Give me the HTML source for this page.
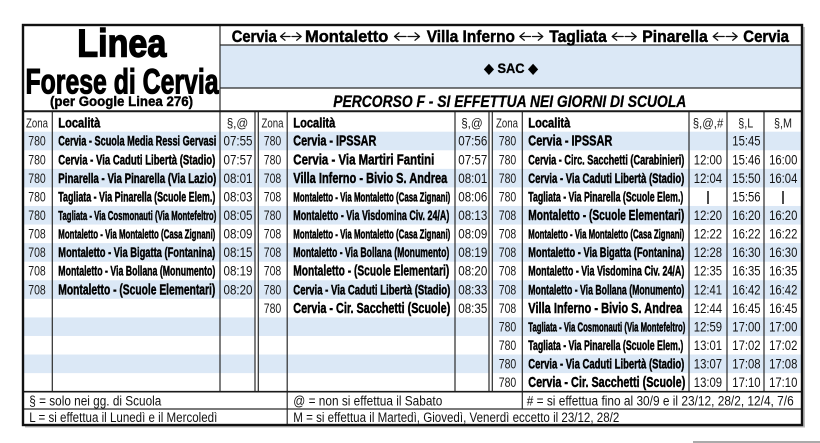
<!DOCTYPE html>
<html>
<head>
<meta charset="utf-8">
<style>
html,body{margin:0;padding:0;background:#fff;}
svg{display:block;}
.z{font-family:"Liberation Sans",sans-serif;font-size:14px;fill:#1a1a1a;}
.t{font-family:"Liberation Sans",sans-serif;font-size:14px;fill:#111;}
.l{font-family:"Liberation Sans",sans-serif;font-weight:bold;fill:#000;stroke:#000;stroke-width:0.45;}
.f{font-family:"Liberation Sans",sans-serif;font-size:13.5px;fill:#111;}
.hd{font-family:"Liberation Sans",sans-serif;font-size:13px;fill:#1a1a1a;}
.rt{font-family:"Liberation Sans",sans-serif;font-weight:bold;font-size:17px;fill:#000;stroke:#000;stroke-width:0.45;}
</style>
</head>
<body>
<svg width="820" height="443" viewBox="0 0 820 443" xmlns="http://www.w3.org/2000/svg">
<rect x="0" y="0" width="820" height="443" fill="#fff"/>

<!-- shadow -->
<rect x="803" y="27" width="2" height="400" fill="#bbb"/>
<rect x="25" y="426" width="780" height="1.5" fill="#bbb"/>
<rect x="693" y="441" width="127" height="2" fill="#aaa"/>

<!-- blue SAC band -->
<rect x="220" y="45" width="582" height="43" fill="#dbe8f6"/>

<!-- stripes -->
<g fill="#dbe8f6">
<rect x="23" y="131.7" width="779" height="18.57"/>
<rect x="23" y="168.84" width="779" height="18.57"/>
<rect x="23" y="205.98" width="779" height="18.57"/>
<rect x="23" y="243.12" width="779" height="18.57"/>
<rect x="23" y="280.26" width="779" height="18.57"/>
<rect x="23" y="317.4" width="779" height="18.57"/>
<rect x="23" y="354.54" width="779" height="18.57"/>
</g>
<!-- white gaps between double lines -->
<rect x="255.6" y="112" width="2.2" height="279.7" fill="#fff"/>
<rect x="489.6" y="112" width="2.2" height="279.7" fill="#fff"/>

<!-- lines -->
<g stroke="#2a2a2a" stroke-width="1.2" fill="none">
<line x1="220" y1="45" x2="802" y2="45"/>
<line x1="220" y1="88" x2="802" y2="88"/>
<line x1="220" y1="24" x2="220" y2="391.7"/>
<line x1="52.3" y1="111" x2="52.3" y2="391.7"/>
<line x1="255" y1="111" x2="255" y2="391.7"/>
<line x1="258.3" y1="111" x2="258.3" y2="391.7"/>
<line x1="287.2" y1="111" x2="287.2" y2="425"/>
<line x1="455" y1="111" x2="455" y2="391.7"/>
<line x1="489" y1="111" x2="489" y2="391.7"/>
<line x1="492.3" y1="111" x2="492.3" y2="391.7"/>
<line x1="522.3" y1="111" x2="522.3" y2="409"/>
<line x1="689" y1="111" x2="689" y2="391.7"/>
<line x1="727" y1="111" x2="727" y2="391.7"/>
<line x1="764" y1="111" x2="764" y2="391.7"/>
<line x1="22" y1="409" x2="802" y2="409"/>
</g>
<line x1="22" y1="111.3" x2="802" y2="111.3" stroke="#1a1a1a" stroke-width="2"/>
<line x1="22" y1="391.7" x2="802" y2="391.7" stroke="#1a1a1a" stroke-width="1.6"/>
<!-- outer border -->
<rect x="23" y="25" width="779" height="400" fill="none" stroke="#111" stroke-width="2.4"/>

<!-- Title block -->
<text x="77.3" y="56.7" textLength="89" lengthAdjust="spacingAndGlyphs" font-family="Liberation Sans, sans-serif" font-weight="bold" font-size="39" fill="#000" stroke="#000" stroke-width="1.4">Linea</text>
<text x="25.5" y="93.3" textLength="193" lengthAdjust="spacingAndGlyphs" font-family="Liberation Sans, sans-serif" font-weight="bold" font-size="35" fill="#000" stroke="#000" stroke-width="1.1">Forese di Cervia</text>
<text x="50" y="106" textLength="143" lengthAdjust="spacingAndGlyphs" font-family="Liberation Sans, sans-serif" font-weight="bold" font-size="13.5" fill="#000" stroke="#000" stroke-width="0.4">(per Google Linea 276)</text>

<!-- Route title -->
<text class="rt" x="231.7" y="42" textLength="45" lengthAdjust="spacingAndGlyphs">Cervia</text>
<text class="rt" x="305" y="42" textLength="83.3" lengthAdjust="spacingAndGlyphs">Montaletto</text>
<text class="rt" x="426.7" y="42" textLength="88.3" lengthAdjust="spacingAndGlyphs">Villa Inferno</text>
<text class="rt" x="549.3" y="42" textLength="57.4" lengthAdjust="spacingAndGlyphs">Tagliata</text>
<text class="rt" x="642.3" y="42" textLength="65.4" lengthAdjust="spacingAndGlyphs">Pinarella</text>
<text class="rt" x="743.3" y="42" textLength="45.7" lengthAdjust="spacingAndGlyphs">Cervia</text>
<g stroke="#111" stroke-width="1.3" fill="none" stroke-linecap="round" stroke-linejoin="round">
<path d="M285,32.8 L280.5,36.5 L285,40.2 M280.5,36.5 H290 M292,36.5 H301.2 M296.7,32.8 L301.2,36.5 L296.7,40.2"/>
<path d="M399,32.8 L394.5,36.5 L399,40.2 M394.5,36.5 H406 M408,36.5 H419.5 M415,32.8 L419.5,36.5 L415,40.2"/>
<path d="M524.3,32.8 L519.8,36.5 L524.3,40.2 M519.8,36.5 H530.5 M532.5,36.5 H542.8 M538.3,32.8 L542.8,36.5 L538.3,40.2"/>
<path d="M616.7,32.8 L612.2,36.5 L616.7,40.2 M612.2,36.5 H623.2 M625.2,36.5 H636.2 M631.7,32.8 L636.2,36.5 L631.7,40.2"/>
<path d="M717.7,32.8 L713.2,36.5 L717.7,40.2 M713.2,36.5 H724.2 M726.2,36.5 H737.2 M732.7,32.8 L737.2,36.5 L732.7,40.2"/>
</g>

<text x="484" y="72.8" textLength="54" lengthAdjust="spacingAndGlyphs" font-family="Liberation Sans, DejaVu Sans, sans-serif" font-weight="bold" font-size="14" fill="#000" stroke="#000" stroke-width="0.3">◆ SAC ◆</text>
<text x="333.3" y="107" textLength="353" lengthAdjust="spacingAndGlyphs" font-family="Liberation Sans, sans-serif" font-weight="bold" font-style="italic" font-size="17" fill="#000" stroke="#000" stroke-width="0.3">PERCORSO F - SI EFFETTUA NEI GIORNI DI SCUOLA</text>

<!-- Column headers -->
<g>
<text class="hd" x="26" y="127.5" textLength="22" lengthAdjust="spacingAndGlyphs">Zona</text>
<text class="l" font-size="14" x="58.3" y="127.5" textLength="42" lengthAdjust="spacingAndGlyphs">Località</text>
<text class="hd" x="226.7" y="127.5" textLength="21.6" lengthAdjust="spacingAndGlyphs">§,@</text>
<text class="hd" x="261.5" y="127.5" textLength="22" lengthAdjust="spacingAndGlyphs">Zona</text>
<text class="l" font-size="14" x="293.3" y="127.5" textLength="42" lengthAdjust="spacingAndGlyphs">Località</text>
<text class="hd" x="461.2" y="127.5" textLength="21.6" lengthAdjust="spacingAndGlyphs">§,@</text>
<text class="hd" x="496" y="127.5" textLength="22" lengthAdjust="spacingAndGlyphs">Zona</text>
<text class="l" font-size="14" x="528.3" y="127.5" textLength="42" lengthAdjust="spacingAndGlyphs">Località</text>
<text class="hd" x="692.7" y="127.5" textLength="30.6" lengthAdjust="spacingAndGlyphs">§,@,#</text>
<text class="hd" x="738.3" y="127.5" textLength="15" lengthAdjust="spacingAndGlyphs">§,L</text>
<text class="hd" x="774" y="127.5" textLength="18" lengthAdjust="spacingAndGlyphs">§,M</text>
</g>

<!-- Column 1 -->
<g>
<text class="z" x="28.25" y="145.7" textLength="17.5" lengthAdjust="spacingAndGlyphs">780</text>
<text class="z" x="28.25" y="164.27" textLength="17.5" lengthAdjust="spacingAndGlyphs">780</text>
<text class="z" x="28.25" y="182.84" textLength="17.5" lengthAdjust="spacingAndGlyphs">780</text>
<text class="z" x="28.25" y="201.41" textLength="17.5" lengthAdjust="spacingAndGlyphs">780</text>
<text class="z" x="28.25" y="219.98" textLength="17.5" lengthAdjust="spacingAndGlyphs">780</text>
<text class="z" x="28.25" y="238.55" textLength="17.5" lengthAdjust="spacingAndGlyphs">708</text>
<text class="z" x="28.25" y="257.12" textLength="17.5" lengthAdjust="spacingAndGlyphs">708</text>
<text class="z" x="28.25" y="275.69" textLength="17.5" lengthAdjust="spacingAndGlyphs">708</text>
<text class="z" x="28.25" y="294.26" textLength="17.5" lengthAdjust="spacingAndGlyphs">708</text>

<text class="l" font-size="13.5" x="58.3" y="145.7" textLength="158" lengthAdjust="spacingAndGlyphs">Cervia - Scuola Media Ressi Gervasi</text>
<text class="l" font-size="14" x="58.3" y="164.27" textLength="157" lengthAdjust="spacingAndGlyphs">Cervia - Via Caduti Libertà (Stadio)</text>
<text class="l" font-size="14" x="58.3" y="182.84" textLength="158" lengthAdjust="spacingAndGlyphs">Pinarella - Via Pinarella (Via Lazio)</text>
<text class="l" font-size="13.5" x="58.3" y="201.41" textLength="157" lengthAdjust="spacingAndGlyphs">Tagliata - Via Pinarella (Scuole Elem.)</text>
<text class="l" font-size="12.5" x="58.3" y="219.98" textLength="158" lengthAdjust="spacingAndGlyphs">Tagliata - Via Cosmonauti (Via Montefeltro)</text>
<text class="l" font-size="12.5" x="58.3" y="238.55" textLength="157" lengthAdjust="spacingAndGlyphs">Montaletto - Via Montaletto (Casa Zignani)</text>
<text class="l" font-size="14" x="58.3" y="257.12" textLength="157" lengthAdjust="spacingAndGlyphs">Montaletto - Via Bigatta (Fontanina)</text>
<text class="l" font-size="13.5" x="58.3" y="275.69" textLength="157" lengthAdjust="spacingAndGlyphs">Montaletto - Via Bollana (Monumento)</text>
<text class="l" font-size="14.5" x="58.3" y="294.26" textLength="157" lengthAdjust="spacingAndGlyphs">Montaletto - (Scuole Elementari)</text>

<text class="t" x="223.5" y="145.7" textLength="29" lengthAdjust="spacingAndGlyphs">07:55</text>
<text class="t" x="223.5" y="164.27" textLength="29" lengthAdjust="spacingAndGlyphs">07:57</text>
<text class="t" x="223.5" y="182.84" textLength="29" lengthAdjust="spacingAndGlyphs">08:01</text>
<text class="t" x="223.5" y="201.41" textLength="29" lengthAdjust="spacingAndGlyphs">08:03</text>
<text class="t" x="223.5" y="219.98" textLength="29" lengthAdjust="spacingAndGlyphs">08:05</text>
<text class="t" x="223.5" y="238.55" textLength="29" lengthAdjust="spacingAndGlyphs">08:09</text>
<text class="t" x="223.5" y="257.12" textLength="29" lengthAdjust="spacingAndGlyphs">08:15</text>
<text class="t" x="223.5" y="275.69" textLength="29" lengthAdjust="spacingAndGlyphs">08:19</text>
<text class="t" x="223.5" y="294.26" textLength="29" lengthAdjust="spacingAndGlyphs">08:20</text>
</g>

<!-- Column 2 -->
<g>
<text class="z" x="263.75" y="145.7" textLength="17.5" lengthAdjust="spacingAndGlyphs">780</text>
<text class="z" x="263.75" y="164.27" textLength="17.5" lengthAdjust="spacingAndGlyphs">780</text>
<text class="z" x="263.75" y="182.84" textLength="17.5" lengthAdjust="spacingAndGlyphs">708</text>
<text class="z" x="263.75" y="201.41" textLength="17.5" lengthAdjust="spacingAndGlyphs">708</text>
<text class="z" x="263.75" y="219.98" textLength="17.5" lengthAdjust="spacingAndGlyphs">780</text>
<text class="z" x="263.75" y="238.55" textLength="17.5" lengthAdjust="spacingAndGlyphs">708</text>
<text class="z" x="263.75" y="257.12" textLength="17.5" lengthAdjust="spacingAndGlyphs">708</text>
<text class="z" x="263.75" y="275.69" textLength="17.5" lengthAdjust="spacingAndGlyphs">708</text>
<text class="z" x="263.75" y="294.26" textLength="17.5" lengthAdjust="spacingAndGlyphs">780</text>
<text class="z" x="263.75" y="312.83" textLength="17.5" lengthAdjust="spacingAndGlyphs">780</text>

<text class="l" font-size="15" x="293.3" y="145.7" textLength="83" lengthAdjust="spacingAndGlyphs">Cervia - IPSSAR</text>
<text class="l" font-size="15" x="293.3" y="164.27" textLength="141" lengthAdjust="spacingAndGlyphs">Cervia - Via Martiri Fantini</text>
<text class="l" font-size="15" x="293.3" y="182.84" textLength="154" lengthAdjust="spacingAndGlyphs">Villa Inferno - Bivio S. Andrea</text>
<text class="l" font-size="12.5" x="293.3" y="201.41" textLength="157" lengthAdjust="spacingAndGlyphs">Montaletto - Via Montaletto (Casa Zignani)</text>
<text class="l" font-size="14" x="293.3" y="219.98" textLength="156" lengthAdjust="spacingAndGlyphs">Montaletto - Via Visdomina Civ. 24/A)</text>
<text class="l" font-size="12.5" x="293.3" y="238.55" textLength="157" lengthAdjust="spacingAndGlyphs">Montaletto - Via Montaletto (Casa Zignani)</text>
<text class="l" font-size="14" x="293.3" y="257.12" textLength="156" lengthAdjust="spacingAndGlyphs">Montaletto - Via Bollana (Monumento)</text>
<text class="l" font-size="15" x="293.3" y="275.69" textLength="156" lengthAdjust="spacingAndGlyphs">Montaletto - (Scuole Elementari)</text>
<text class="l" font-size="14" x="293.3" y="294.26" textLength="157" lengthAdjust="spacingAndGlyphs">Cervia - Via Caduti Libertà (Stadio)</text>
<text class="l" font-size="15" x="293.3" y="312.83" textLength="157" lengthAdjust="spacingAndGlyphs">Cervia - Cir. Sacchetti (Scuole)</text>

<text class="t" x="458.3" y="145.7" textLength="29" lengthAdjust="spacingAndGlyphs">07:56</text>
<text class="t" x="458.3" y="164.27" textLength="29" lengthAdjust="spacingAndGlyphs">07:57</text>
<text class="t" x="458.3" y="182.84" textLength="29" lengthAdjust="spacingAndGlyphs">08:01</text>
<text class="t" x="458.3" y="201.41" textLength="29" lengthAdjust="spacingAndGlyphs">08:06</text>
<text class="t" x="458.3" y="219.98" textLength="29" lengthAdjust="spacingAndGlyphs">08:13</text>
<text class="t" x="458.3" y="238.55" textLength="29" lengthAdjust="spacingAndGlyphs">08:09</text>
<text class="t" x="458.3" y="257.12" textLength="29" lengthAdjust="spacingAndGlyphs">08:19</text>
<text class="t" x="458.3" y="275.69" textLength="29" lengthAdjust="spacingAndGlyphs">08:20</text>
<text class="t" x="458.3" y="294.26" textLength="29" lengthAdjust="spacingAndGlyphs">08:33</text>
<text class="t" x="458.3" y="312.83" textLength="29" lengthAdjust="spacingAndGlyphs">08:35</text>
</g>

<!-- Column 3 -->
<g>
<text class="z" x="498.75" y="145.7" textLength="17.5" lengthAdjust="spacingAndGlyphs">780</text>
<text class="z" x="498.75" y="164.27" textLength="17.5" lengthAdjust="spacingAndGlyphs">780</text>
<text class="z" x="498.75" y="182.84" textLength="17.5" lengthAdjust="spacingAndGlyphs">780</text>
<text class="z" x="498.75" y="201.41" textLength="17.5" lengthAdjust="spacingAndGlyphs">780</text>
<text class="z" x="498.75" y="219.98" textLength="17.5" lengthAdjust="spacingAndGlyphs">708</text>
<text class="z" x="498.75" y="238.55" textLength="17.5" lengthAdjust="spacingAndGlyphs">708</text>
<text class="z" x="498.75" y="257.12" textLength="17.5" lengthAdjust="spacingAndGlyphs">708</text>
<text class="z" x="498.75" y="275.69" textLength="17.5" lengthAdjust="spacingAndGlyphs">708</text>
<text class="z" x="498.75" y="294.26" textLength="17.5" lengthAdjust="spacingAndGlyphs">708</text>
<text class="z" x="498.75" y="312.83" textLength="17.5" lengthAdjust="spacingAndGlyphs">708</text>
<text class="z" x="498.75" y="331.4" textLength="17.5" lengthAdjust="spacingAndGlyphs">780</text>
<text class="z" x="498.75" y="349.97" textLength="17.5" lengthAdjust="spacingAndGlyphs">780</text>
<text class="z" x="498.75" y="368.54" textLength="17.5" lengthAdjust="spacingAndGlyphs">780</text>
<text class="z" x="498.75" y="387.11" textLength="17.5" lengthAdjust="spacingAndGlyphs">780</text>

<text class="l" font-size="15" x="528.3" y="145.7" textLength="84" lengthAdjust="spacingAndGlyphs">Cervia - IPSSAR</text>
<text class="l" font-size="14" x="528.3" y="164.27" textLength="156" lengthAdjust="spacingAndGlyphs">Cervia - Circ. Sacchetti (Carabinieri)</text>
<text class="l" font-size="14" x="528.3" y="182.84" textLength="156" lengthAdjust="spacingAndGlyphs">Cervia - Via Caduti Libertà (Stadio)</text>
<text class="l" font-size="13.5" x="528.3" y="201.41" textLength="155" lengthAdjust="spacingAndGlyphs">Tagliata - Via Pinarella (Scuole Elem.)</text>
<text class="l" font-size="15" x="528.3" y="219.98" textLength="156" lengthAdjust="spacingAndGlyphs">Montaletto - (Scuole Elementari)</text>
<text class="l" font-size="12.5" x="528.3" y="238.55" textLength="156" lengthAdjust="spacingAndGlyphs">Montaletto - Via Montaletto (Casa Zignani)</text>
<text class="l" font-size="14" x="528.3" y="257.12" textLength="156" lengthAdjust="spacingAndGlyphs">Montaletto - Via Bigatta (Fontanina)</text>
<text class="l" font-size="14" x="528.3" y="275.69" textLength="156" lengthAdjust="spacingAndGlyphs">Montaletto - Via Visdomina Civ. 24/A)</text>
<text class="l" font-size="14" x="528.3" y="294.26" textLength="156" lengthAdjust="spacingAndGlyphs">Montaletto - Via Bollana (Monumento)</text>
<text class="l" font-size="15" x="528.3" y="312.83" textLength="154" lengthAdjust="spacingAndGlyphs">Villa Inferno - Bivio S. Andrea</text>
<text class="l" font-size="12.5" x="528.3" y="331.4" textLength="157" lengthAdjust="spacingAndGlyphs">Tagliata - Via Cosmonauti (Via Montefeltro)</text>
<text class="l" font-size="13.5" x="528.3" y="349.97" textLength="155" lengthAdjust="spacingAndGlyphs">Tagliata - Via Pinarella (Scuole Elem.)</text>
<text class="l" font-size="14" x="528.3" y="368.54" textLength="156" lengthAdjust="spacingAndGlyphs">Cervia - Via Caduti Libertà (Stadio)</text>
<text class="l" font-size="15" x="528.3" y="387.11" textLength="157" lengthAdjust="spacingAndGlyphs">Cervia - Cir. Sacchetti (Scuole)</text>

<!-- §,@,# -->
<text class="t" x="693.8" y="164.27" textLength="28.3" lengthAdjust="spacingAndGlyphs">12:00</text>
<text class="t" x="693.8" y="182.84" textLength="28.3" lengthAdjust="spacingAndGlyphs">12:04</text>
<text class="t" x="693.8" y="219.98" textLength="28.3" lengthAdjust="spacingAndGlyphs">12:20</text>
<text class="t" x="693.8" y="238.55" textLength="28.3" lengthAdjust="spacingAndGlyphs">12:22</text>
<text class="t" x="693.8" y="257.12" textLength="28.3" lengthAdjust="spacingAndGlyphs">12:28</text>
<text class="t" x="693.8" y="275.69" textLength="28.3" lengthAdjust="spacingAndGlyphs">12:35</text>
<text class="t" x="693.8" y="294.26" textLength="28.3" lengthAdjust="spacingAndGlyphs">12:41</text>
<text class="t" x="693.8" y="312.83" textLength="28.3" lengthAdjust="spacingAndGlyphs">12:44</text>
<text class="t" x="693.8" y="331.4" textLength="28.3" lengthAdjust="spacingAndGlyphs">12:59</text>
<text class="t" x="693.8" y="349.97" textLength="28.3" lengthAdjust="spacingAndGlyphs">13:01</text>
<text class="t" x="693.8" y="368.54" textLength="28.3" lengthAdjust="spacingAndGlyphs">13:07</text>
<text class="t" x="693.8" y="387.11" textLength="28.3" lengthAdjust="spacingAndGlyphs">13:09</text>

<!-- §,L -->
<text class="t" x="732.3" y="145.7" textLength="28.3" lengthAdjust="spacingAndGlyphs">15:45</text>
<text class="t" x="732.3" y="164.27" textLength="28.3" lengthAdjust="spacingAndGlyphs">15:46</text>
<text class="t" x="732.3" y="182.84" textLength="28.3" lengthAdjust="spacingAndGlyphs">15:50</text>
<text class="t" x="732.3" y="201.41" textLength="28.3" lengthAdjust="spacingAndGlyphs">15:56</text>
<text class="t" x="732.3" y="219.98" textLength="28.3" lengthAdjust="spacingAndGlyphs">16:20</text>
<text class="t" x="732.3" y="238.55" textLength="28.3" lengthAdjust="spacingAndGlyphs">16:22</text>
<text class="t" x="732.3" y="257.12" textLength="28.3" lengthAdjust="spacingAndGlyphs">16:30</text>
<text class="t" x="732.3" y="275.69" textLength="28.3" lengthAdjust="spacingAndGlyphs">16:35</text>
<text class="t" x="732.3" y="294.26" textLength="28.3" lengthAdjust="spacingAndGlyphs">16:42</text>
<text class="t" x="732.3" y="312.83" textLength="28.3" lengthAdjust="spacingAndGlyphs">16:45</text>
<text class="t" x="732.3" y="331.4" textLength="28.3" lengthAdjust="spacingAndGlyphs">17:00</text>
<text class="t" x="732.3" y="349.97" textLength="28.3" lengthAdjust="spacingAndGlyphs">17:02</text>
<text class="t" x="732.3" y="368.54" textLength="28.3" lengthAdjust="spacingAndGlyphs">17:08</text>
<text class="t" x="732.3" y="387.11" textLength="28.3" lengthAdjust="spacingAndGlyphs">17:10</text>

<!-- §,M -->
<text class="t" x="769.1" y="164.27" textLength="28.3" lengthAdjust="spacingAndGlyphs">16:00</text>
<text class="t" x="769.1" y="182.84" textLength="28.3" lengthAdjust="spacingAndGlyphs">16:04</text>
<text class="t" x="769.1" y="219.98" textLength="28.3" lengthAdjust="spacingAndGlyphs">16:20</text>
<text class="t" x="769.1" y="238.55" textLength="28.3" lengthAdjust="spacingAndGlyphs">16:22</text>
<text class="t" x="769.1" y="257.12" textLength="28.3" lengthAdjust="spacingAndGlyphs">16:30</text>
<text class="t" x="769.1" y="275.69" textLength="28.3" lengthAdjust="spacingAndGlyphs">16:35</text>
<text class="t" x="769.1" y="294.26" textLength="28.3" lengthAdjust="spacingAndGlyphs">16:42</text>
<text class="t" x="769.1" y="312.83" textLength="28.3" lengthAdjust="spacingAndGlyphs">16:45</text>
<text class="t" x="769.1" y="331.4" textLength="28.3" lengthAdjust="spacingAndGlyphs">17:00</text>
<text class="t" x="769.1" y="349.97" textLength="28.3" lengthAdjust="spacingAndGlyphs">17:02</text>
<text class="t" x="769.1" y="368.54" textLength="28.3" lengthAdjust="spacingAndGlyphs">17:08</text>
<text class="t" x="769.1" y="387.11" textLength="28.3" lengthAdjust="spacingAndGlyphs">17:10</text>

<!-- pass-through bars -->
<line x1="708" y1="191" x2="708" y2="204" stroke="#111" stroke-width="1.5"/>
<line x1="783" y1="191" x2="783" y2="204" stroke="#111" stroke-width="1.5"/>
</g>

<!-- Footer -->
<text class="f" x="29.3" y="405.5" textLength="132" lengthAdjust="spacingAndGlyphs">§ = solo nei gg. di Scuola</text>
<text class="f" x="29.3" y="422" textLength="188" lengthAdjust="spacingAndGlyphs">L = si effettua il Lunedì e il Mercoledì</text>
<text class="f" x="293.3" y="405.5" textLength="149" lengthAdjust="spacingAndGlyphs">@ = non si effettua il Sabato</text>
<text class="f" x="293.3" y="422" textLength="326" lengthAdjust="spacingAndGlyphs">M = si effettua il Martedì, Giovedì, Venerdì eccetto il 23/12, 28/2</text>
<text class="f" x="526.7" y="405.5" textLength="267" lengthAdjust="spacingAndGlyphs"># = si effettua fino al 30/9 e il 23/12, 28/2, 12/4, 7/6</text>
</svg>
</body>
</html>
